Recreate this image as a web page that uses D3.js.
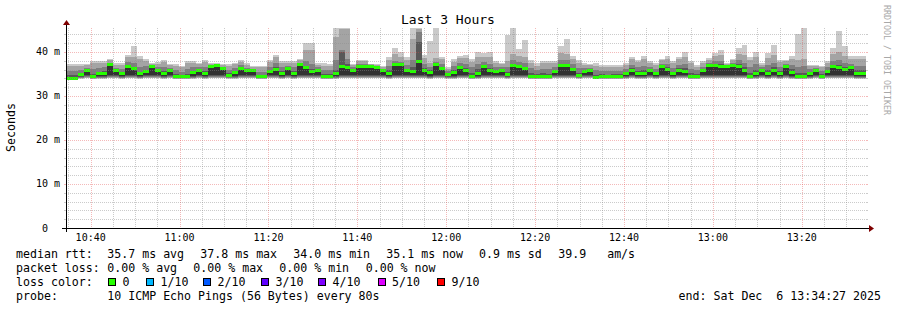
<!DOCTYPE html>
<html>
<head>
<meta charset="utf-8">
<script src="https://cdn.jsdelivr.net/npm/d3@7"></script>
<style>
body { margin: 0; background: #fff; }
text { font-family: "DejaVu Sans Mono", monospace; fill: #000; white-space: pre; }
</style>
</head>
<body>
<script>
// 10 pings every 80s, 3 hours up to the end time
var startTime = Date.UTC(2025, 11, 6, 10, 34, 27);
var stepSeconds = 80;

// sorted pings per step (ms); the 6th one is the median
var ping1 = [33.6,33.6,33.9,34.0,33.8,33.9,33.9,34.0,34.0,33.9,
  34.0,34.0,33.9,34.0,34.0,34.0,33.9,34.0,33.8,33.8,
  33.8,33.9,34.0,33.9,34.0,34.0,34.0,33.9,33.9,34.0,
  34.0,34.0,33.8,33.8,34.0,34.0,33.9,34.0,33.9,34.0,
  34.0,34.0,34.0,33.8,33.8,33.9,34.0,34.0,34.0,34.0,
  34.0,34.0,34.0,34.0,33.9,34.0,34.0,34.0,34.0,34.0,
  34.0,33.9,34.0,34.0,33.9,33.9,34.0,34.0,33.8,33.9,
  34.0,34.0,34.0,34.0,33.9,34.0,34.0,34.0,33.8,33.8,
  33.8,33.8,34.0,34.0,34.0,34.0,33.9,34.0,34.0,33.8,
  33.8,33.8,33.8,33.8,33.9,34.0,33.9,33.9,34.0,33.9,
  34.0,34.0,33.9,34.0,34.0,33.8,33.8,34.0,34.0,34.0,
  34.0,34.0,34.0,34.0,34.0,33.8,33.9,34.0,33.9,34.0,
  33.9,34.0,33.9,33.8,33.8,33.9,34.0,33.8,34.0,34.0,
  34.0,34.0,34.0,33.9,33.9];
var ping2 = [33.7,33.7,34.0,34.1,33.9,34.0,34.0,34.2,34.1,34.0,
  34.2,34.1,34.0,34.1,34.2,34.1,34.0,34.1,33.9,33.9,
  33.9,34.0,34.1,34.0,34.2,34.2,34.1,34.0,34.0,34.1,
  34.1,34.1,33.9,33.9,34.1,34.1,34.0,34.1,34.0,34.2,
  34.1,34.1,34.1,33.9,33.9,34.0,34.2,34.1,34.1,34.2,
  34.2,34.2,34.2,34.1,34.0,34.2,34.2,34.1,34.1,34.2,
  34.1,34.0,34.2,34.1,34.0,34.0,34.2,34.1,33.9,34.0,
  34.2,34.1,34.1,34.1,34.0,34.2,34.2,34.1,33.9,33.9,
  33.9,33.9,34.1,34.2,34.2,34.1,34.0,34.1,34.1,33.9,
  33.9,33.9,33.9,33.9,34.0,34.1,34.0,34.0,34.1,34.0,
  34.2,34.1,34.0,34.1,34.1,33.9,33.9,34.1,34.2,34.2,
  34.2,34.2,34.2,34.2,34.1,33.9,34.0,34.1,34.0,34.1,
  34.0,34.2,34.0,33.9,33.9,34.0,34.1,33.9,34.1,34.2,
  34.1,34.1,34.1,34.0,34.0];
var ping3 = [33.7,33.7,34.2,34.3,34.0,34.2,34.2,34.4,34.3,34.2,
  34.4,34.3,34.2,34.3,34.4,34.3,34.2,34.3,34.0,34.0,
  34.0,34.2,34.3,34.2,34.4,34.4,34.3,34.1,34.2,34.3,
  34.3,34.3,34.0,34.0,34.3,34.3,34.2,34.3,34.2,34.4,
  34.3,34.3,34.3,34.0,34.0,34.2,34.4,34.3,34.3,34.4,
  34.4,34.4,34.4,34.3,34.2,34.4,34.4,34.3,34.3,34.4,
  34.3,34.2,34.4,34.3,34.2,34.2,34.4,34.3,34.0,34.2,
  34.4,34.3,34.3,34.3,34.2,34.4,34.4,34.3,34.0,34.0,
  34.0,34.0,34.3,34.4,34.4,34.3,34.1,34.3,34.3,33.9,
  34.0,34.0,34.0,34.0,34.2,34.3,34.2,34.2,34.3,34.2,
  34.4,34.3,34.2,34.3,34.3,34.0,34.0,34.3,34.4,34.4,
  34.4,34.4,34.4,34.4,34.3,34.0,34.2,34.3,34.2,34.3,
  34.2,34.4,34.2,34.0,34.0,34.2,34.3,34.0,34.3,34.4,
  34.3,34.3,34.3,34.2,34.2];
var ping4 = [33.8,33.8,34.4,34.5,34.2,34.4,34.4,34.6,34.5,34.4,
  34.6,34.5,34.4,34.5,34.6,34.5,34.4,34.5,34.1,34.1,
  34.1,34.4,34.5,34.4,34.6,34.6,34.5,34.3,34.4,34.5,
  34.5,34.5,34.1,34.1,34.5,34.5,34.4,34.5,34.4,34.6,
  34.5,34.5,34.5,34.1,34.2,34.4,34.6,34.5,34.5,34.6,
  34.6,34.6,34.6,34.5,34.4,34.6,34.6,34.5,34.5,34.6,
  34.5,34.4,34.6,34.5,34.4,34.4,34.6,34.5,34.2,34.4,
  34.6,34.5,34.5,34.5,34.4,34.6,34.6,34.5,34.2,34.1,
  34.2,34.2,34.5,34.6,34.6,34.5,34.3,34.5,34.5,34.0,
  34.1,34.1,34.1,34.1,34.4,34.5,34.4,34.4,34.5,34.4,
  34.6,34.5,34.4,34.5,34.5,34.2,34.2,34.5,34.6,34.6,
  34.6,34.6,34.6,34.6,34.5,34.1,34.4,34.5,34.4,34.5,
  34.4,34.6,34.4,34.1,34.1,34.4,34.5,34.2,34.5,34.6,
  34.5,34.5,34.5,34.4,34.4];
var ping5 = [33.9,33.9,34.6,34.7,34.4,34.6,34.6,34.8,34.7,34.6,
  34.8,34.7,34.6,34.7,34.8,34.7,34.6,34.7,34.3,34.3,
  34.3,34.6,34.7,34.6,34.8,34.8,34.7,34.5,34.6,34.7,
  34.7,34.7,34.3,34.3,34.7,34.7,34.6,34.7,34.6,34.8,
  34.7,34.7,34.7,34.3,34.4,34.6,34.8,34.7,34.7,34.8,
  34.8,34.8,34.8,34.7,34.6,34.8,34.8,34.7,34.7,34.8,
  34.7,34.6,34.8,34.7,34.6,34.6,34.8,34.7,34.4,34.6,
  34.8,34.7,34.7,34.7,34.6,34.8,34.8,34.7,34.4,34.3,
  34.4,34.4,34.7,34.8,34.8,34.7,34.5,34.7,34.7,34.1,
  34.3,34.3,34.3,34.3,34.6,34.7,34.6,34.6,34.7,34.6,
  34.8,34.7,34.6,34.7,34.7,34.4,34.4,34.7,34.8,34.8,
  34.8,34.8,34.8,34.8,34.7,34.3,34.6,34.7,34.6,34.7,
  34.6,34.8,34.6,34.3,34.3,34.6,34.7,34.4,34.7,34.8,
  34.7,34.7,34.7,34.6,34.6];
var median = [34.0,34.0,34.8,35.7,34.5,35.0,35.1,37.1,35.7,35.0,
  36.6,36.2,35.0,35.6,36.6,35.9,35.1,35.7,34.4,34.4,
  34.4,35.3,35.7,35.0,36.8,37.0,36.3,34.7,35.3,36.2,
  35.7,35.9,34.4,34.4,35.5,36.0,35.2,36.3,35.0,37.1,
  36.4,35.6,35.9,34.4,34.5,35.2,36.8,36.4,35.9,36.6,
  36.6,36.6,36.5,35.9,35.2,37.1,37.1,35.7,35.6,37.8,
  35.9,35.4,37.1,36.3,34.8,35.4,36.5,35.7,34.5,35.2,
  36.6,35.7,35.5,35.8,34.8,37.0,36.7,36.3,34.5,34.4,
  34.5,34.5,35.5,37.0,37.0,36.0,34.6,35.6,35.9,34.2,
  34.4,34.4,34.4,34.4,35.0,35.9,35.0,35.0,35.7,35.0,
  36.6,36.0,35.0,35.7,35.5,34.5,34.5,35.7,37.0,37.0,
  36.8,36.6,37.0,36.8,35.9,34.4,35.1,35.9,35.1,35.9,
  35.1,36.6,35.4,34.4,34.4,35.1,35.9,34.5,35.6,36.6,
  36.4,36.1,36.4,35.0,35.1];
var ping7 = [34.8,34.7,35.2,35.8,35.1,35.5,35.6,37.2,35.8,35.4,
  37.0,36.6,35.5,36.0,36.7,36.0,35.6,35.8,34.9,34.7,
  35.1,35.7,35.9,35.6,36.9,37.1,36.4,35.2,35.7,36.5,
  35.9,36.0,34.8,34.7,35.9,36.5,35.7,36.4,35.6,37.2,
  36.9,36.2,36.0,34.9,35.0,36.0,39.9,37.2,36.0,36.7,
  36.7,36.7,36.6,36.0,35.9,37.3,37.2,36.2,36.7,42.3,
  36.4,35.9,37.2,36.6,35.1,35.9,36.8,36.3,35.3,36.1,
  37.0,36.4,35.9,36.0,35.5,37.3,37.1,36.7,35.2,35.0,
  35.2,35.1,35.9,37.3,37.3,36.4,35.3,35.8,36.0,34.8,
  34.9,34.8,34.9,34.9,35.4,36.3,35.6,35.8,36.1,35.4,
  36.8,36.5,35.5,36.3,36.3,35.2,35.0,36.0,37.1,37.3,
  37.2,36.7,37.1,37.2,36.5,35.2,36.0,36.0,35.9,36.5,
  35.7,36.7,36.1,35.3,35.3,35.5,36.0,34.9,36.0,37.1,
  37.0,36.7,36.7,35.8,35.8];
var ping8 = [35.7,35.6,35.9,36.3,36.2,36.4,36.5,37.5,36.4,36.1,
  37.7,37.4,36.7,36.8,36.9,36.5,36.6,36.3,35.8,35.5,
  36.1,36.5,36.5,36.6,37.1,37.2,36.6,36.0,36.4,37.0,
  36.4,36.2,35.5,35.5,36.7,37.4,36.5,36.9,36.5,37.5,
  37.9,37.3,36.5,35.8,35.8,38.1,40.4,38.3,36.5,37.2,
  37.2,36.9,36.8,36.2,36.9,38.0,37.8,37.0,38.2,44.5,
  37.3,36.6,37.7,37.3,35.6,36.8,37.5,37.2,36.5,37.3,
  37.7,37.3,36.6,36.5,36.7,38.1,37.8,37.5,36.3,35.9,
  36.2,36.1,36.6,38.2,38.2,37.2,36.3,36.3,36.4,35.8,
  35.7,35.7,35.7,35.6,36.1,37.1,36.6,36.9,36.7,36.1,
  37.3,37.3,36.4,37.1,37.3,36.2,35.8,36.6,37.5,38.0,
  38.0,36.9,37.4,38.1,37.5,36.6,37.3,36.5,37.1,37.5,
  36.6,37.2,37.1,36.7,36.8,36.1,36.3,35.6,36.6,38.0,
  38.1,37.6,37.3,36.9,36.9];
var ping9 = [36.8,36.9,36.9,37.0,37.4,37.5,37.5,38.2,37.1,37.0,
  38.8,38.8,38.4,37.9,37.2,37.3,37.7,37.0,36.8,36.5,
  37.4,37.5,37.3,37.7,37.3,37.3,37.1,36.9,37.2,37.8,
  37.1,36.7,36.5,36.5,37.8,38.8,37.5,37.6,37.6,38.1,
  40.5,40.5,37.1,36.9,36.8,43.3,45.3,45.3,37.1,37.9,
  37.9,37.2,37.1,36.7,38.2,39.6,38.9,38.2,43.0,45.3,
  38.7,37.5,38.6,38.3,36.2,37.8,38.6,38.6,37.8,38.8,
  38.9,38.9,37.5,37.2,38.0,39.5,39.2,38.8,37.6,36.9,
  37.4,37.4,37.5,39.8,39.6,38.4,37.6,37.0,37.0,36.9,
  36.7,36.7,36.6,36.7,37.0,38.3,37.7,38.3,37.6,37.0,
  38.1,38.5,37.4,38.3,38.9,37.4,36.7,37.5,38.2,39.1,
  39.4,37.2,38.1,39.6,39.3,38.1,38.9,37.1,38.7,39.3,
  37.7,37.9,38.4,38.2,38.4,36.8,36.9,36.5,37.5,39.5,
  40.0,39.2,38.5,38.3,38.3];
var rttMax = [37.3,37.3,37.3,37.3,37.9,37.9,37.9,38.5,37.4,37.4,
  39.4,41.4,39.2,38.5,37.4,37.7,38.2,37.3,37.3,36.9,
  37.9,37.9,37.6,38.2,37.4,37.4,37.3,37.3,37.6,38.2,
  37.4,36.9,36.9,36.9,38.2,39.4,37.9,37.9,38.0,38.4,
  42.0,42.0,37.4,37.4,37.3,45.4,45.4,45.4,37.3,38.2,
  38.2,37.3,37.3,36.9,38.8,40.9,39.9,38.8,45.4,45.4,
  39.4,42.4,45.4,38.8,36.5,38.4,39.1,39.4,38.4,39.9,
  39.7,40.1,37.9,37.6,43.8,45.4,40.7,42.7,38.2,37.4,
  37.9,37.9,38.0,41.4,43.0,39.1,38.2,37.4,37.3,37.4,
  37.1,37.1,37.1,37.1,37.4,38.9,38.2,39.0,38.0,37.4,
  38.5,39.1,37.9,38.9,40.1,37.9,37.1,37.9,38.6,39.7,
  40.4,37.4,38.4,40.9,41.5,38.9,40.1,37.4,39.7,41.5,
  38.2,38.2,39.1,44.2,45.4,37.1,37.1,36.9,37.9,41.0,
  44.7,41.4,39.1,39.1,39.1];

var yMajorTicks = [0, 10, 20, 30, 40];
var yMinorTicks = [2,4,6,8,12,14,16,18,22,24,26,28,32,34,36,38,42,44];

var lossLabels = ["0", "1/10", "2/10", "3/10", "4/10", "5/10", "9/10"];
var lossColors = ["#26ff00", "#00b8ff", "#0059ff", "#5e00ff", "#7e00ff", "#dd00ff", "#ff0000"];

var rttStats = ["35.7 ms avg", "37.8 ms max", "34.0 ms min", "35.1 ms now", "0.9 ms sd", "39.9   am/s"];
var lossStats = ["0.00 % avg", "0.00 % max", "0.00 % min", "0.00 % now"];
var probeText = "10 ICMP Echo Pings (56 Bytes) every 80s";
var endText = "end: Sat Dec  6 13:34:27 2025";

// ---- canvas
var W = 897, H = 310;
var X0 = 66, X1 = 866, Y0 = 228, Y1 = 28;
var svg = d3.select("body").append("svg").attr("width", W).attr("height", H);

var endTime = startTime + median.length * stepSeconds * 1000;
var x = d3.scaleUtc().domain([new Date(startTime), new Date(endTime)]).range([X0, X1]);
var y = d3.scaleLinear().domain([0, 45.45]).range([Y0, Y1]);

var times = median.map(function(d, i) { return new Date(startTime + i * stepSeconds * 1000); });
times.push(new Date(endTime));

function bandRows(lo, hi) {
  return times.map(function(t, i) {
    var j = Math.min(i, lo.length - 1);
    return {t: t, lo: lo[j], hi: hi[j]};
  });
}

// smoke: band i spans ping(i+1) .. ping(10-i)
var pings = [ping1, ping2, ping3, ping4, ping5, median, ping7, ping8, ping9, rttMax];
var smokeColors = ["#cacaca", "#a4a4a4", "#7e7e7e", "#585858", "#323232"];
var smokeArea = d3.area()
    .x(function(d) { return x(d.t); })
    .y0(function(d) { return y(d.lo); })
    .y1(function(d) { return y(d.hi); })
    .curve(d3.curveStepAfter);

smokeColors.forEach(function(c, i) {
  svg.append("path")
      .attr("d", smokeArea(bandRows(pings[i], pings[9 - i])))
      .attr("fill", c)
      .attr("shape-rendering", "crispEdges");
});

// median bar, 3px tall, loss colour 0
var medArea = d3.area()
    .x(function(d) { return x(d.t); })
    .y0(function(d) { return y(d.lo) + 1.5; })
    .y1(function(d) { return y(d.lo) - 1.5; })
    .curve(d3.curveStepAfter);
svg.append("path")
    .attr("d", medArea(bandRows(median, median)))
    .attr("fill", lossColors[0])
    .attr("shape-rendering", "crispEdges");

// ---- grid (on top of the data, like rrdtool)
var gridCol = "rgba(140,140,140,0.45)", mgridCol = "rgba(225,70,70,0.38)";
var grid = svg.append("g");

function hLine(v, col) {
  var yy = Math.round(y(v)) + 0.5;
  grid.append("line").attr("x1", X0 - 2).attr("x2", X0).attr("y1", yy).attr("y2", yy).attr("stroke", col);
  grid.append("line").attr("x1", X0).attr("x2", X1).attr("y1", yy).attr("y2", yy)
      .attr("stroke", col).attr("stroke-dasharray", "1 1");
  grid.append("line").attr("x1", X1).attr("x2", X1 + 2).attr("y1", yy).attr("y2", yy).attr("stroke", col);
}
yMinorTicks.forEach(function(v) { hLine(v, gridCol); });
yMajorTicks.filter(function(v) { return v > 0; }).forEach(function(v) { hLine(v, mgridCol); });

var minorTimes = d3.utcMinute.every(5).range(new Date(startTime), new Date(endTime));
minorTimes.forEach(function(t) {
  var major = t.getUTCMinutes() % 20 === 0;
  var xx = Math.round(x(t)) + 0.5;
  grid.append("line").attr("x1", xx).attr("x2", xx).attr("y1", Y1).attr("y2", Y0)
      .attr("stroke", major ? mgridCol : gridCol).attr("stroke-width", 1)
      .attr("stroke-dasharray", "1 1");
});

// ---- axes
var axisG = svg.append("g").attr("shape-rendering", "crispEdges");
axisG.append("line").attr("x1", X0 - 4).attr("x2", X1 + 4).attr("y1", Y0 + 0.5).attr("y2", Y0 + 0.5).attr("stroke", "#000");
axisG.append("line").attr("x1", X0 + 0.5).attr("x2", X0 + 0.5).attr("y1", Y0 + 4).attr("y2", Y1 - 4).attr("stroke", "#000");
svg.append("path")
    .attr("d", "M" + (X1 + 3) + "," + (Y0 - 3) + "L" + (X1 + 3) + "," + (Y0 + 4) + "L" + (X1 + 8) + "," + (Y0 + 0.5) + "Z")
    .attr("fill", "#7f0000");
svg.append("path")
    .attr("d", "M" + (X0 - 3) + "," + (Y1 - 3) + "L" + (X0 + 4) + "," + (Y1 - 3) + "L" + (X0 + 0.5) + "," + (Y1 - 8) + "Z")
    .attr("fill", "#7f0000");

// y labels
svg.selectAll(".ylab").data(yMajorTicks).enter().append("text")
    .attr("class", "ylab")
    .attr("x", 60)
    .attr("y", function(d) { return y(d) + 3.5; })
    .attr("text-anchor", "end")
    .style("font-size", "10px")
    .text(function(d) { return d === 0 ? "0  " : d + " m"; });

// x labels
var fmt = d3.utcFormat("%H:%M");
svg.selectAll(".xlab").data(minorTimes.filter(function(t) { return t.getUTCMinutes() % 20 === 0; }))
  .enter().append("text")
    .attr("class", "xlab")
    .attr("x", function(d) { return x(d); })
    .attr("y", 241)
    .attr("text-anchor", "middle")
    .style("font-size", "10px")
    .text(fmt);

// titles
svg.append("text").attr("x", 448).attr("y", 24).attr("text-anchor", "middle")
    .style("font-size", "13px").text("Last 3 Hours");
svg.append("text").attr("transform", "translate(15,127.5) rotate(-90)").attr("text-anchor", "middle")
    .style("font-size", "11.6px").text("Seconds");
svg.append("text").attr("transform", "translate(884,5) rotate(90)")
    .style("font-size", "8.3px").style("fill", "#a8a8a8").text("RRDTOOL / TOBI OETIKER");

// ---- legend
function leg(xx, yy, s) {
  return svg.append("text").attr("x", xx).attr("y", yy).style("font-size", "11.6px").text(s);
}
leg(16, 258, "median rtt:");
var rttX = [107.3, 200.3, 293.3, 386.3, 479, 558.3];
rttStats.forEach(function(s, i) { leg(rttX[i], 258, s); });

leg(16, 272, "packet loss:");
var lossX = [107.3, 193.3, 279.3, 365.7];
lossStats.forEach(function(s, i) { leg(lossX[i], 272, s); });

leg(16, 286, "loss color:");
var boxX = [108, 146, 203, 261, 318, 377.5, 437];
lossLabels.forEach(function(s, i) {
  svg.append("rect").attr("x", boxX[i] + 0.5).attr("y", 278.5).attr("width", 7).attr("height", 7)
      .attr("fill", lossColors[i]).attr("stroke", "#000").attr("stroke-width", 1)
      .attr("shape-rendering", "crispEdges");
  leg(boxX[i] + 14.5, 286, s);
});

leg(16, 300, "probe:");
leg(107.3, 300, probeText);
svg.append("text").attr("x", 881).attr("y", 300).attr("text-anchor", "end")
    .style("font-size", "11.6px").text(endText);
</script>
</body>
</html>
